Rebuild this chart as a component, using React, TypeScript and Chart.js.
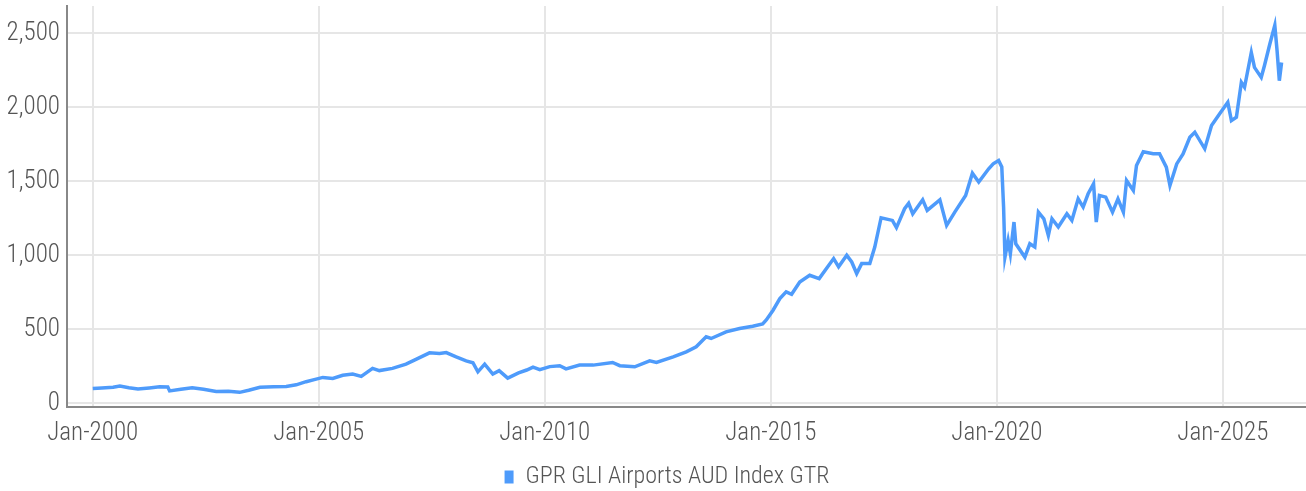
import React, { useEffect, useRef } from "react";
import { Chart, registerables } from "chart.js";

Chart.register(...registerables);

const seriesName = "GPR GLI Airports AUD Index GTR";

// decimal years
const dates: number[] = [
  2000.0, 2000.2, 2000.45, 2000.6, 2000.8, 2001.0, 2001.25, 2001.48, 2001.66, 2001.7, 2001.95,
  2002.2, 2002.45, 2002.73, 2003.0, 2003.25, 2003.45, 2003.7, 2004.0, 2004.28, 2004.5, 2004.72,
  2004.9, 2005.09, 2005.31, 2005.53, 2005.75, 2005.94, 2006.19, 2006.34, 2006.63, 2006.93,
  2007.15, 2007.45, 2007.67, 2007.82, 2008.04, 2008.26, 2008.41, 2008.52, 2008.67, 2008.85,
  2008.99, 2009.18, 2009.42, 2009.6, 2009.74, 2009.89, 2010.11, 2010.33, 2010.47, 2010.77,
  2011.07, 2011.5, 2011.66, 2011.99, 2012.32, 2012.47, 2012.84, 2013.13, 2013.35, 2013.57,
  2013.68, 2014.01, 2014.31, 2014.6, 2014.82, 2014.9, 2015.05, 2015.2, 2015.34, 2015.46,
  2015.64, 2015.86, 2016.07, 2016.39, 2016.5, 2016.68, 2016.79, 2016.9, 2017.01, 2017.19,
  2017.3, 2017.44, 2017.69, 2017.78, 2017.96, 2018.05, 2018.14, 2018.36, 2018.46, 2018.74,
  2018.89, 2019.07, 2019.31, 2019.46, 2019.6, 2019.82, 2019.92, 2020.04, 2020.11, 2020.15,
  2020.18, 2020.25, 2020.3, 2020.38, 2020.42, 2020.62, 2020.73, 2020.84, 2020.92, 2021.04,
  2021.14, 2021.22, 2021.36, 2021.55, 2021.66, 2021.8, 2021.91, 2022.02, 2022.14,
  2022.2, 2022.27, 2022.41, 2022.56, 2022.68, 2022.8, 2022.87, 2023.02, 2023.09, 2023.24,
  2023.46, 2023.6, 2023.75, 2023.83, 2023.98, 2024.12, 2024.27, 2024.38, 2024.6, 2024.75,
  2024.93, 2025.11, 2025.19, 2025.3, 2025.41, 2025.48, 2025.63, 2025.7, 2025.85, 2025.92,
  2026.04, 2026.15, 2026.2, 2026.25, 2026.3,
];

const values: number[] = [
  100, 104, 108, 117, 105, 96, 104, 112, 110, 84, 95,
  105, 95, 80, 82, 74, 88, 108, 112, 114, 125, 146,
  160, 175, 168, 189, 198, 182, 236, 221, 236, 265,
  297, 341, 336, 343, 314, 287, 274, 213, 265, 198,
  221, 170, 205, 225, 245, 228, 248, 254, 233, 258,
  258, 276, 254, 247, 287, 276, 314, 348, 382, 449,
  438, 483, 505, 521, 536, 563, 629, 708, 753, 737,
  820, 865, 843, 978, 922, 1000, 955, 877, 944, 944,
  1056, 1254, 1236, 1187, 1315, 1352, 1281, 1375, 1304, 1375,
  1202, 1292, 1404, 1555, 1495, 1585, 1618, 1641, 1597, 1326,
  988, 1101, 1011, 1225, 1078, 988, 1078, 1056, 1292, 1247,
  1135, 1247, 1191, 1281, 1236, 1382, 1326, 1416, 1483,
  1225, 1405, 1393, 1292, 1382, 1292, 1506, 1438, 1607, 1700,
  1686, 1686, 1596, 1472, 1618, 1686, 1798, 1832, 1720, 1877,
  1956, 2034, 1910, 1933, 2169, 2136, 2371, 2270, 2202, 2281,
  2428, 2555, 2383, 2180, 2303,
];

const xTickYears: number[] = [2000, 2005, 2010, 2015, 2020, 2025];
const yTickValues: number[] = [0, 500, 1000, 1500, 2000, 2500];

const LINE = "#4e9bfb";
const FONT = "'Roboto Condensed', 'Liberation Sans Narrow', 'DejaVu Sans Condensed', sans-serif";

const shiftLegend = {
  id: "shiftLegend",
  afterLayout(chart: any) {
    const l = chart.legend;
    if (l) {
      l.left += 14;
      l.right += 14;
      l.top += 8;
      l.bottom += 8;
    }
  },
};

export default function App() {
  const ref = useRef<HTMLCanvasElement | null>(null);
  useEffect(() => {
    document.body.style.margin = "0";
    if (!ref.current) return;
    const tickFont = { family: FONT, size: 25, weight: "300" as any };
    const legendFont = { family: FONT, size: 24, weight: "300" as any };
    const chart = new Chart(ref.current, {
      type: "line",
      data: {
        datasets: [
          {
            label: seriesName,
            data: dates.map((d, i) => ({ x: d, y: values[i] })),
            borderColor: LINE,
            backgroundColor: LINE,
            borderWidth: 3.5,
            pointRadius: 0,
            tension: 0,
          },
        ],
      },
      plugins: [shiftLegend],
      options: {
        animation: false,
        responsive: false,
        devicePixelRatio: 1,
        layout: { padding: { top: 6, right: 0, left: 0, bottom: 0 } },
        plugins: {
          tooltip: { enabled: false },
          legend: {
            position: "bottom",
            labels: {
              font: legendFont,
              color: "#555",
              boxWidth: 9,
              boxHeight: 13,
              padding: 6,
              generateLabels: () => [
                {
                  text: seriesName,
                  fillStyle: LINE,
                  strokeStyle: LINE,
                  lineWidth: 0,
                  hidden: false,
                  datasetIndex: 0,
                  fontColor: "#555",
                } as any,
              ],
            },
          },
        },
        scales: {
          x: {
            type: "linear",
            min: 1999.43,
            max: 2026.84,
            afterBuildTicks: (s: any) => {
              s.ticks = xTickYears.map((v) => ({ value: v }));
            },
            afterFit: (s: any) => {
              s.height = 44;
              s.paddingLeft = 0;
              s.paddingRight = 0;
            },
            ticks: {
              font: tickFont,
              color: "#555",
              padding: 12,
              maxRotation: 0,
              autoSkip: false,
              callback: (v: any) => "Jan-" + v,
            },
            grid: { color: "#e6e6e6", lineWidth: 2, drawTicks: false },
            border: { color: "#888", width: 2 },
          },
          y: {
            min: -25,
            max: 2685,
            afterBuildTicks: (s: any) => {
              s.ticks = yTickValues.map((v) => ({ value: v }));
            },
            afterFit: (s: any) => {
              s.width = 67;
              s.paddingTop = 0;
              s.paddingBottom = 0;
            },
            ticks: {
              font: tickFont,
              color: "#555",
              padding: 7,
              callback: (v: any) => Number(v).toLocaleString("en-US"),
            },
            grid: { color: "#e6e6e6", lineWidth: 2, drawTicks: false },
            border: { color: "#888", width: 2 },
          },
        },
      },
    });
    return () => chart.destroy();
  }, []);
  return (
    <div style={{ width: 1306, height: 491 }}>
      <canvas ref={ref} width={1306} height={491} />
    </div>
  );
}
